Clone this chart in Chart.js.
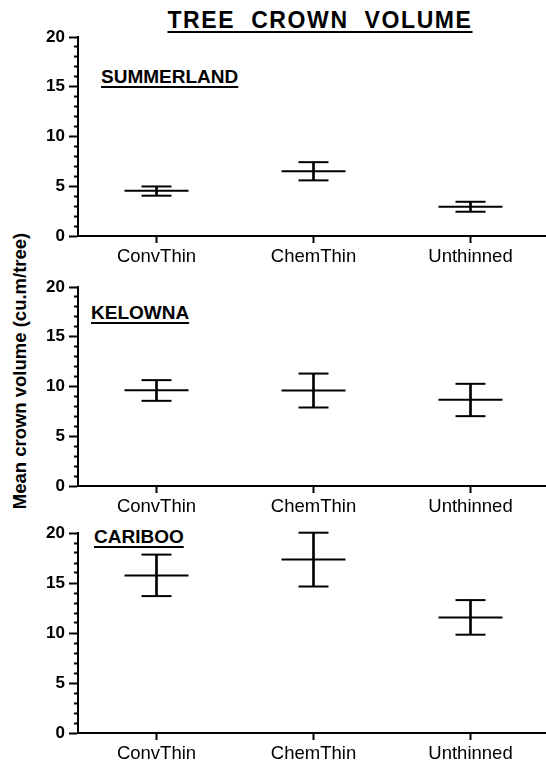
<!DOCTYPE html>
<html>
<head>
<meta charset="utf-8">
<script src="https://cdn.jsdelivr.net/npm/chart.js@4.4.1/dist/chart.umd.min.js"></script>
<style>
  html, body { margin: 0; padding: 0; background: #fff; width: 546px; height: 765px; overflow: hidden; }
  body { position: relative; font-family: 'Liberation Sans', Arial, sans-serif; color: #000; }
  canvas { position: absolute; left: 0; }
  .txt { position: absolute; white-space: pre; font-weight: bold; text-decoration: underline; text-decoration-thickness: 2px; text-underline-offset: 3px; }
  #title { left: 0; width: 640px; text-align: center; top: 7px; font-size: 23px; line-height: 26px; letter-spacing: 1.6px; }
  #ytitle { position: absolute; left: 20px; top: 371px; transform: translate(-50%, -50%) rotate(-90deg); font-weight: bold; font-size: 18.5px; white-space: nowrap; }
</style>
</head>
<body>
<div id="title" class="txt">TREE  CROWN  VOLUME</div>
<div id="ytitle">Mean crown volume (cu.m/tree)</div>
<div id="lab1" class="txt" style="left:101px; top:67px; font-size:19px; line-height:20px;">SUMMERLAND</div>
<div id="lab2" class="txt" style="left:91px; top:303px; font-size:19px; line-height:20px;">KELOWNA</div>
<div id="lab3" class="txt" style="left:94px; top:527px; font-size:19px; line-height:20px;">CARIBOO</div>
<canvas id="c1" width="549" height="243" style="top:27px"></canvas>
<canvas id="c2" width="549" height="243" style="top:277px"></canvas>
<canvas id="c3" width="549" height="244" style="top:523px"></canvas>
<script>
// ---- data ----
const categories = ['ConvThin', 'ChemThin', 'Unthinned'];
const yTickLabels = [0, 5, 10, 15, 20];

const summerlandMean  = [4.55, 6.52, 2.94];
const summerlandUpper = [4.98, 7.42, 3.44];
const summerlandLower = [4.05, 5.59, 2.44];

const kelownaMean  = [9.63, 9.60, 8.66];
const kelownaUpper = [10.64, 11.30, 10.27];
const kelownaLower = [8.56, 7.89, 7.02];

const caribooMean  = [15.75, 17.34, 11.56];
const caribooUpper = [17.84, 20.03, 13.29];
const caribooLower = [13.69, 14.65, 9.83];

// ---- chart ----
Chart.defaults.font.family = "'Liberation Sans', Arial, sans-serif";
Chart.defaults.color = '#000';

function makeChart(id, mean, upper, lower) {
  const ctx = document.getElementById(id);
  const pointDs = (data, r) => ({
    type: 'line', data: data, showLine: false,
    pointStyle: 'line', pointRadius: r, pointHoverRadius: r,
    pointBorderColor: '#000', pointBorderWidth: 2, borderColor: '#000', clip: false
  });
  return new Chart(ctx, {
    type: 'bar',
    data: {
      labels: categories,
      datasets: [
        {
          type: 'bar',
          data: categories.map((_, i) => [lower[i], upper[i]]),
          backgroundColor: '#000',
          borderWidth: 0,
          barThickness: 2,
          clip: false
        },
        pointDs(upper, 15),
        pointDs(lower, 15),
        pointDs(mean, 32)
      ]
    },
    options: {
      responsive: false,
      animation: false,
      devicePixelRatio: 1,
      layout: { autoPadding: false, padding: { top: 10, right: 0, left: 0, bottom: 0 } },
      plugins: { legend: { display: false }, tooltip: { enabled: false } },
      scales: {
        x: {
          offset: true,
          grid: { offset: false, drawOnChartArea: false, drawTicks: true, tickLength: 7, tickWidth: 2, tickColor: '#000', color: '#000' },
          border: { display: true, color: '#000', width: 2 },
          ticks: { font: { size: 18.5 }, color: '#000', padding: 3, maxRotation: 0, autoSkip: false },
          afterFit: (s) => { s.height = 34; s.paddingLeft = 0; s.paddingRight = 0; }
        },
        y: {
          min: yTickLabels[0],
          max: yTickLabels[yTickLabels.length - 1],
          grid: {
            drawOnChartArea: false, drawTicks: true, tickLength: 9, tickWidth: 2, tickColor: '#000', color: '#000',
            tickBorderDash: (c) => (c.tick && yTickLabels.includes(c.tick.value)) ? [] : [0, 5, 20, 0]
          },
          border: { display: true, color: '#000', width: 2 },
          ticks: {
            stepSize: 1, autoSkip: false, padding: 4, color: '#000',
            font: { size: 17, weight: 'bold' },
            callback: (v) => yTickLabels.includes(v) ? String(v) : ''
          },
          afterFit: (s) => { s.width = 78; s.paddingTop = 0; s.paddingBottom = 0; }
        }
      }
    }
  });
}

makeChart('c1', summerlandMean, summerlandUpper, summerlandLower);
makeChart('c2', kelownaMean, kelownaUpper, kelownaLower);
makeChart('c3', caribooMean, caribooUpper, caribooLower);
</script>
</body>
</html>
